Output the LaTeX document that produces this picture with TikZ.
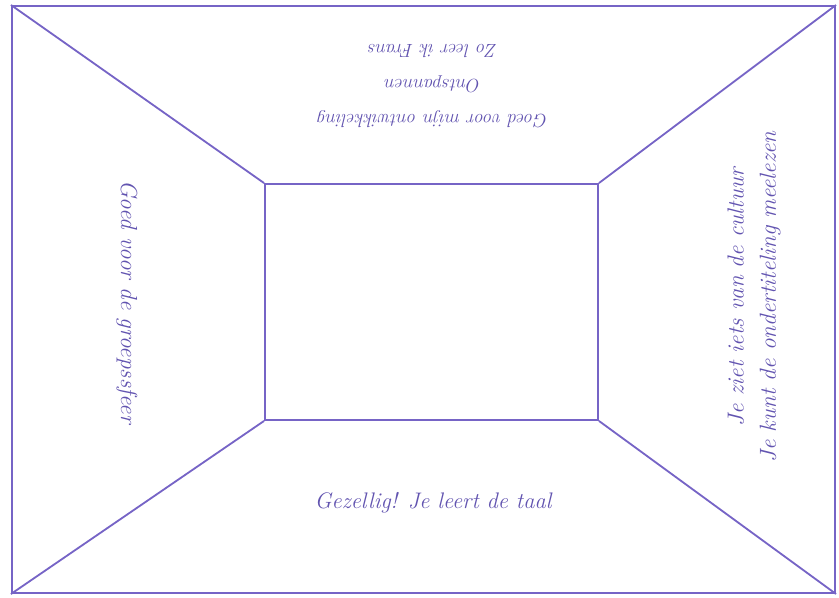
\documentclass[tikz,border=0pt]{standalone}
\usepackage{tikz}
\usetikzlibrary{positioning,calc}
\definecolor{roomviolet}{RGB}{118,100,198}
\definecolor{textviolet}{RGB}{98,84,176}
\tikzset{
  % Walls of the room
  wallbox/.style={draw=roomviolet, rectangle, line width=1.3pt, inner sep=0pt},
  wallline/.style={draw=roomviolet, line width=1.3pt},
  % Texts on the walls
  walltext/.style={text=textviolet, align=center, font=\fontsize{16.5}{23}\selectfont\itshape},
  walltext-small/.style={walltext, font=\fontsize{13.5}{25}\selectfont\itshape}
}
\begin{document}
\begin{tikzpicture}[x=0.025cm, y=-0.025cm]
\useasboundingbox (0,0) rectangle (839,597);

% ============== Outer frame and back wall ==============
\node[wallbox, minimum width=20.575cm, minimum height=14.675cm] (room) at (423.5,299.5) {};
\node[wallbox, minimum width=8.325cm, minimum height=5.9cm] (back) at (431.5,302) {};

% ============== Edges of the room ==============
\draw[wallline] (room.north west) -- (back.north west);
\draw[wallline] (room.north east) -- (back.north east);
\draw[wallline] (room.south west) -- (back.south west);
\draw[wallline] (room.south east) -- (back.south east);

% ============== Texts ==============
\node[walltext-small, rotate=180] (ceiling) at (433,86) {Goed voor mijn ontwikkeling\\Ontspannen\\Zo leer ik Frans};
\node[walltext, rotate=-90] (leftwall) at (127,302) {Goed voor de groepssfeer};
\node[walltext, rotate=90] (rightwall) at (754,297) {Je ziet iets van de cultuur\\Je kunt de ondertiteling meelezen};
\node[walltext, font=\fontsize{16}{23}\selectfont\itshape] (floor) at (433,503) {Gezellig! Je leert de taal};

\end{tikzpicture}
\end{document}
